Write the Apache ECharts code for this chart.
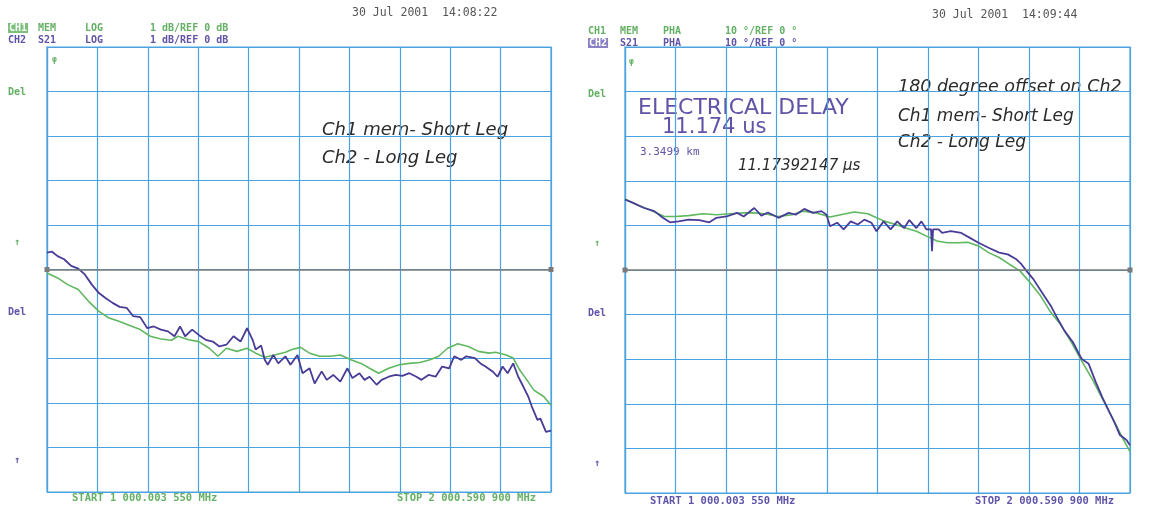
<!DOCTYPE html>
<html>
<head>
<meta charset="utf-8">
<script src="https://cdn.jsdelivr.net/npm/echarts@6/dist/echarts.min.js"></script>
<style>
html,body{margin:0;padding:0;background:#fff;}
#c{width:1157px;height:510px;}
</style>
</head>
<body>
<div id="c"></div>
<script>
// ---------- Data (frequency in MHz, magnitude in dB, phase in degrees) ----------
// Left panel: CH2 S21 (log mag, dB)
const magS21Freq = [1000,1010,1021,1034,1048,1062,1075,1089,1103,1116,1130,1144,1158,1171,1185,1199,1212,1226,1240,1253,1264,1274,1288,1301,1315,1329,1342,1356,1370,1384,1397,1408,1414,1425,1432,1438,1449,1459,1473,1483,1497,1507,1521,1531,1545,1555,1568,1582,1596,1606,1620,1630,1640,1654,1664,1678,1692,1705,1719,1733,1743,1757,1771,1784,1798,1808,1822,1832,1849,1860,1870,1884,1894,1904,1914,1925,1935,1945,1955,1962,1973,1979,1990,2000];
const magS21dB = [0.38,0.40,0.30,0.23,0.08,0.02,-0.11,-0.34,-0.53,-0.64,-0.75,-0.84,-0.86,-1.05,-1.07,-1.32,-1.28,-1.35,-1.39,-1.50,-1.28,-1.50,-1.35,-1.47,-1.58,-1.62,-1.73,-1.69,-1.50,-1.62,-1.32,-1.58,-1.80,-1.71,-2.03,-2.14,-1.92,-2.11,-1.95,-2.14,-1.92,-2.33,-2.22,-2.56,-2.29,-2.48,-2.37,-2.52,-2.22,-2.44,-2.33,-2.48,-2.41,-2.59,-2.48,-2.41,-2.37,-2.39,-2.33,-2.41,-2.48,-2.37,-2.41,-2.18,-2.22,-1.95,-2.03,-1.95,-1.99,-2.11,-2.18,-2.29,-2.41,-2.18,-2.33,-2.11,-2.41,-2.63,-2.86,-3.08,-3.38,-3.35,-3.65,-3.62];
// Left panel: CH1 memory (log mag, dB)
const magMemFreq = [1000,1021,1041,1062,1082,1103,1123,1144,1164,1185,1205,1226,1247,1260,1281,1301,1322,1339,1356,1377,1397,1414,1432,1452,1473,1486,1503,1521,1541,1562,1582,1603,1623,1640,1658,1678,1699,1719,1740,1760,1777,1795,1815,1836,1856,1877,1890,1911,1925,1938,1952,1966,1986,2000];
const magMemdB = [-0.08,-0.19,-0.34,-0.45,-0.71,-0.94,-1.09,-1.17,-1.26,-1.35,-1.50,-1.56,-1.59,-1.50,-1.58,-1.62,-1.77,-1.95,-1.77,-1.84,-1.77,-1.88,-1.97,-1.92,-1.86,-1.80,-1.75,-1.88,-1.95,-1.95,-1.92,-2.03,-2.11,-2.22,-2.33,-2.22,-2.14,-2.11,-2.09,-2.03,-1.95,-1.77,-1.67,-1.73,-1.84,-1.88,-1.86,-1.92,-1.99,-2.26,-2.48,-2.71,-2.86,-3.05];
// Right panel: CH2 S21 (phase, deg)
const phaS21Freq = [1000,1017,1038,1058,1075,1089,1106,1126,1147,1167,1181,1201,1222,1235,1256,1270,1283,1304,1324,1338,1355,1372,1389,1399,1406,1420,1433,1447,1461,1474,1488,1498,1512,1526,1539,1553,1563,1577,1587,1597,1606,1608,1610,1621,1628,1645,1666,1683,1700,1720,1741,1758,1775,1785,1795,1809,1826,1843,1857,1870,1887,1904,1918,1932,1945,1959,1969,1980,1993,2000];
const phaS21Deg = [15.8,15.0,13.9,13.2,11.7,10.7,10.9,11.3,11.2,10.7,11.7,12.0,12.8,12.0,13.9,12.2,12.9,11.7,12.8,12.4,13.7,12.8,13.2,12.4,9.8,10.6,9.1,10.9,10.2,11.3,10.6,8.7,10.9,9.1,10.9,9.4,11.2,9.4,10.9,9.1,9.1,4.2,9.1,9.1,8.3,8.7,8.3,7.2,6.1,5.0,3.9,3.5,2.4,1.3,-0.2,-2.1,-5.1,-8.0,-11.0,-13.6,-16.2,-19.9,-21.0,-25.1,-28.5,-31.8,-34.1,-37.0,-38.1,-39.3];
// Right panel: CH1 memory (phase, deg)
const phaMemFreq = [1000,1024,1051,1078,1099,1126,1154,1181,1208,1235,1256,1276,1304,1331,1352,1379,1406,1427,1454,1481,1498,1515,1536,1556,1577,1597,1618,1638,1659,1679,1700,1720,1741,1761,1782,1802,1823,1843,1863,1884,1904,1925,1945,1966,1986,2000];
const phaMemDeg = [15.9,14.6,13.4,12.0,12.0,12.2,12.6,12.4,12.6,12.8,12.8,12.6,12.0,12.4,13.2,12.8,11.9,12.4,13.0,12.6,11.7,10.9,10.2,9.4,8.7,7.6,6.5,6.1,6.1,6.2,5.4,3.9,2.8,1.3,-0.2,-2.8,-5.8,-9.5,-12.3,-16.2,-20.3,-24.4,-28.8,-33.3,-37.8,-40.7];

// Axis scales
const freqStart = 1000, freqStop = 2000, freqStep = 100;
const magRef = 0, magPerDiv = 1;
const phaRef = 0, phaPerDiv = 10;

const pairs = (xs, ys) => xs.map((x, i) => [x, ys[i]]);

// ---------- Styling ----------
const GRID = '#4aa3df';
const BLUE = '#473c96';
const GREEN = '#5fb85f';
const TXT_G = '#64b064';
const TXT_P = '#5f54a8';
const HAND = '#2b2b2b';
const MONO = '"DejaVu Sans Mono", monospace';
const HANDF = '"DejaVu Sans", sans-serif';

function xAx(gi) {
  return {
    type: 'value', gridIndex: gi, min: freqStart, max: freqStop, interval: freqStep,
    axisLabel: {show: false}, axisTick: {show: false},
    axisLine: {show: true, lineStyle: {color: GRID, width: 1.2}},
    splitLine: {show: true, lineStyle: {color: GRID, width: 1.2}}
  };
}
function yAx(gi, ref, per) {
  return {
    type: 'value', gridIndex: gi, min: ref - 5 * per, max: ref + 5 * per, interval: per,
    axisLabel: {show: false}, axisTick: {show: false},
    axisLine: {show: true, lineStyle: {color: GRID, width: 1.2}},
    splitLine: {show: true, lineStyle: {color: GRID, width: 1.2}}
  };
}
function refLine(ref) {
  return {
    silent: true, symbol: ['rect', 'rect'], symbolSize: 5, animation: false,
    label: {show: false},
    lineStyle: {color: '#7a7a7a', width: 1.6, type: 'solid'},
    data: [[{coord: [freqStart, ref]}, {coord: [freqStop, ref]}]]
  };
}
function txt(x, y, s, color, size, extra, weight) {
  return {
    type: 'text', x: x, y: y, silent: true,
    style: Object.assign({text: s, fill: color, font: (weight || 'bold') + ' ' + size + 'px ' + MONO, textVerticalAlign: 'middle'}, (extra || {}))
  };
}
function hand(x, y, s, size) {
  return {type: 'text', x: x, y: y, silent: true,
    style: {text: s, fill: HAND, font: 'italic ' + size + 'px ' + HANDF, textVerticalAlign: 'middle'}};
}

const chart = echarts.init(document.getElementById('c'), null, {renderer: 'canvas'});
chart.setOption({
  animation: false,
  backgroundColor: '#ffffff',
  grid: [
    {left: 47, top: 47, width: 504, height: 445, show: true, borderColor: GRID, borderWidth: 1.2},
    {left: 625, top: 47, width: 505, height: 446, show: true, borderColor: GRID, borderWidth: 1.2}
  ],
  xAxis: [xAx(0), xAx(1)],
  yAxis: [yAx(0, magRef, magPerDiv), yAx(1, phaRef, phaPerDiv)],
  series: [
    {type: 'line', name: 'CH1 MEM', xAxisIndex: 0, yAxisIndex: 0, data: pairs(magMemFreq, magMemdB),
     showSymbol: false, lineStyle: {color: GREEN, width: 1.6}, markLine: refLine(magRef)},
    {type: 'line', name: 'CH2 S21', xAxisIndex: 0, yAxisIndex: 0, data: pairs(magS21Freq, magS21dB),
     showSymbol: false, lineStyle: {color: BLUE, width: 1.8}},
    {type: 'line', name: 'CH1 MEM', xAxisIndex: 1, yAxisIndex: 1, data: pairs(phaMemFreq, phaMemDeg),
     showSymbol: false, lineStyle: {color: GREEN, width: 1.6}, markLine: refLine(phaRef)},
    {type: 'line', name: 'CH2 S21', xAxisIndex: 1, yAxisIndex: 1, data: pairs(phaS21Freq, phaS21Deg),
     showSymbol: false, lineStyle: {color: BLUE, width: 1.8}}
  ],
  graphic: [
    // Left header
    txt(352, 13, '30 Jul 2001  14:08:22', '#555', 11.5, null, 'normal'),
    txt(8, 28, 'CH1', '#ffffff', 10, {backgroundColor: '#7cc07c', padding: [0, 1]}),
    txt(38, 28, 'MEM', TXT_G, 10), txt(85, 28, 'LOG', TXT_G, 10), txt(150, 28, '1 dB/REF 0 dB', TXT_G, 10),
    txt(8, 40, 'CH2', TXT_P, 10), txt(38, 40, 'S21', TXT_P, 10), txt(85, 40, 'LOG', TXT_P, 10), txt(150, 40, '1 dB/REF 0 dB', TXT_P, 10),
    // Right header
    txt(932, 15, '30 Jul 2001  14:09:44', '#555', 11.5, null, 'normal'),
    txt(588, 31, 'CH1', TXT_G, 10), txt(620, 31, 'MEM', TXT_G, 10), txt(663, 31, 'PHA', TXT_G, 10), txt(725, 31, '10 °/REF 0 °', TXT_G, 10),
    txt(588, 43, 'CH2', '#ffffff', 10, {backgroundColor: '#8a80c4', padding: [0, 1]}),
    txt(620, 43, 'S21', TXT_P, 10), txt(663, 43, 'PHA', TXT_P, 10), txt(725, 43, '10 °/REF 0 °', TXT_P, 10),
    // Side labels left
    txt(8, 92, 'Del', TXT_G, 10), txt(14, 242, '↑', TXT_G, 10),
    txt(8, 312, 'Del', TXT_P, 10), txt(14, 460, '↑', TXT_P, 10),
    txt(52, 60, 'φ', TXT_G, 8),
    // Side labels right
    txt(588, 94, 'Del', TXT_G, 10), txt(594, 243, '↑', TXT_G, 10),
    txt(588, 313, 'Del', TXT_P, 10), txt(594, 463, '↑', TXT_P, 10),
    txt(629, 62, 'φ', TXT_G, 8),
    // Footers
    txt(72, 498, 'START 1 000.003 550 MHz', TXT_G, 10.5), txt(397, 498, 'STOP 2 000.590 900 MHz', TXT_G, 10.5),
    txt(650, 501, 'START 1 000.003 550 MHz', TXT_P, 10.5), txt(975, 501, 'STOP 2 000.590 900 MHz', TXT_P, 10.5),
    // Electrical delay block
    {type: 'text', x: 638, y: 108, silent: true, style: {text: 'ELECTRICAL DELAY', fill: TXT_P, font: '22px "DejaVu Sans", sans-serif', textVerticalAlign: 'middle'}},
    {type: 'text', x: 662, y: 128, silent: true, style: {text: '11.174 us', fill: TXT_P, font: '21px "DejaVu Sans", sans-serif', textVerticalAlign: 'middle'}},
    txt(640, 152, '3.3499 km', TXT_P, 11, null, 'normal'),
    hand(738, 166, '11.17392147 μs', 15),
    // Handwritten notes
    hand(322, 130, 'Ch1 mem- Short Leg', 18),
    hand(322, 158, 'Ch2 - Long Leg', 18),
    hand(898, 87, '180 degree offset on Ch2', 17.5),
    hand(898, 117, 'Ch1 mem- Short Leg', 17),
    hand(898, 143, 'Ch2 - Long Leg', 17)
  ]
});
</script>
</body>
</html>
